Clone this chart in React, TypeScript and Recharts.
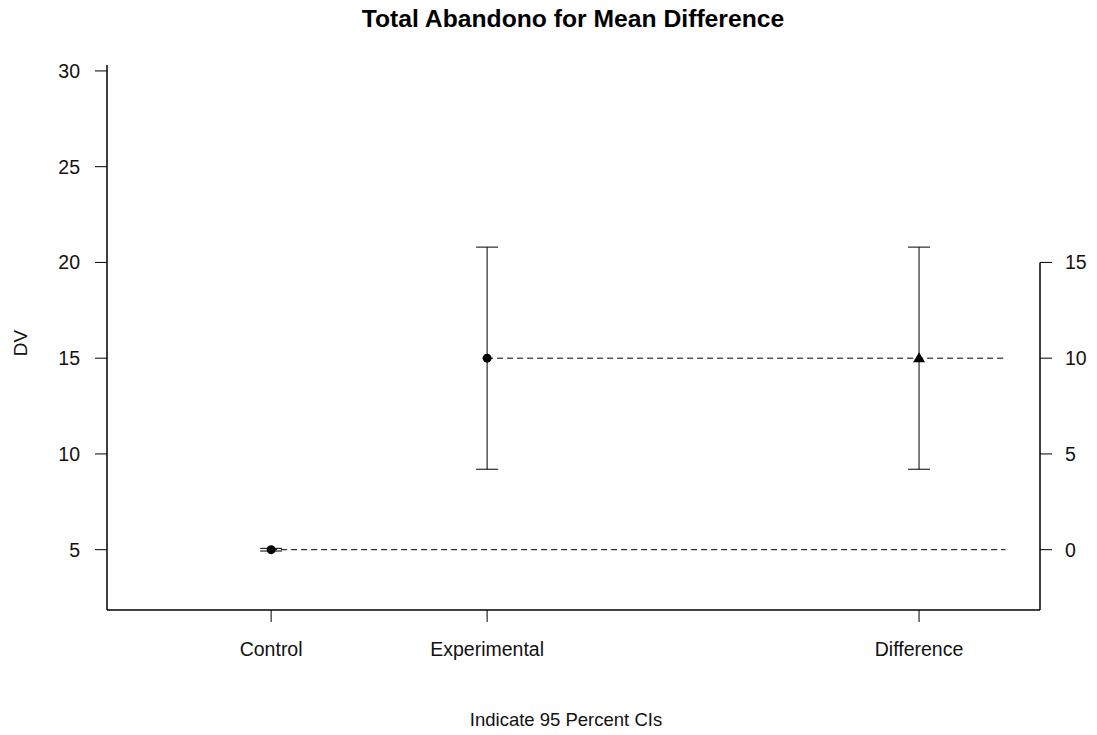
import React from 'react';
import { ComposedChart, Scatter, XAxis, YAxis, ErrorBar, ReferenceLine } from 'recharts';

// Group means with 95% confidence limits, on the DV scale
const groupNames = ['Control', 'Experimental', 'Difference'];
const groupX = [1, 2, 4];
const groupMeans = [5.0, 15.0];
const groupLower = [4.93, 9.2];
const groupUpper = [5.07, 20.8];

// Mean difference (Experimental - Control) with its 95% CI, on the difference scale
const diffMean = 10.0;
const diffLower = 4.2;
const diffUpper = 15.8;

const dvTicks = [5, 10, 15, 20, 25, 30];
const diffTicks = [0, 5, 10, 15];

const X_DOMAIN: [number, number] = [0.24, 4.56];
const DV_DOMAIN: [number, number] = [1.85, 30.31];
const REF_END = 4.4;
// zero on the difference axis sits at the control mean
const anchor = groupMeans[0];
const DIFF_DOMAIN: [number, number] = [DV_DOMAIN[0] - anchor, DV_DOMAIN[1] - anchor];

const groupData = groupMeans.map((m, i) => ({
  x: groupX[i],
  y: m,
  ci: [m - groupLower[i], groupUpper[i] - m],
}));
const diffData = [{ x: groupX[2], y: diffMean, ci: [diffMean - diffLower, diffUpper - diffMean] }];

const FONT = '"Liberation Sans", Arial, sans-serif';
const tickStyle = { fill: '#111', fontSize: 19.5, fontFamily: FONT };

const DotShape = (p: any) => <circle cx={p.cx} cy={p.cy} r={4.5} fill="#000" />;
const TriangleShape = (p: any) => (
  <path d={`M${p.cx},${p.cy - 6} L${p.cx + 6},${p.cy + 4} L${p.cx - 6},${p.cy + 4} Z`} fill="#000" />
);

export default function App() {
  return (
    <div style={{ position: 'relative', width: 1097, height: 735 }}>
      <style>{`body{margin:0}`}</style>
      <ComposedChart width={1097} height={735} margin={{ top: 65, right: 0, bottom: 0, left: 0 }}>
        <XAxis
          type="number"
          dataKey="x"
          domain={X_DOMAIN}
          allowDataOverflow
          ticks={groupX}
          interval={0}
          tickFormatter={(v: number) => groupNames[groupX.indexOf(v)]}
          axisLine={false}
          tickLine={{ stroke: '#000' }}
          tickSize={12}
          tickMargin={20}
          height={125}
          tick={tickStyle}
        />
        <YAxis
          yAxisId="dv"
          orientation="left"
          type="number"
          domain={DV_DOMAIN}
          allowDataOverflow
          ticks={dvTicks}
          interval={0}
          axisLine={false}
          tickLine={{ stroke: '#000' }}
          tickSize={12}
          tickMargin={15}
          width={107}
          tick={tickStyle}
        />
        <YAxis
          yAxisId="diff"
          orientation="right"
          type="number"
          domain={DIFF_DOMAIN}
          allowDataOverflow
          ticks={diffTicks}
          interval={0}
          axisLine={false}
          tickLine={{ stroke: '#000' }}
          tickSize={12}
          tickMargin={13}
          width={57}
          tick={tickStyle}
        />

        {/* L-shaped frame and the difference axis spine */}
        <ReferenceLine
          yAxisId="dv"
          ifOverflow="visible"
          segment={[{ x: X_DOMAIN[0], y: DV_DOMAIN[0] }, { x: X_DOMAIN[0], y: DV_DOMAIN[1] }]}
          stroke="#000"
          strokeWidth={1.5}
        />
        <ReferenceLine
          yAxisId="dv"
          ifOverflow="visible"
          segment={[{ x: X_DOMAIN[0], y: DV_DOMAIN[0] }, { x: X_DOMAIN[1], y: DV_DOMAIN[0] }]}
          stroke="#000"
          strokeWidth={1.5}
        />
        <ReferenceLine
          yAxisId="diff"
          ifOverflow="visible"
          segment={[{ x: X_DOMAIN[1], y: diffTicks[diffTicks.length - 1] }, { x: X_DOMAIN[1], y: DIFF_DOMAIN[0] }]}
          stroke="#000"
          strokeWidth={1.5}
        />

        {/* dashed guides from each group mean across to the difference axis */}
        <ReferenceLine
          yAxisId="dv"
          ifOverflow="visible"
          segment={[{ x: groupX[0], y: groupMeans[0] }, { x: REF_END, y: groupMeans[0] }]}
          stroke="#000"
          strokeDasharray="6 4"
        />
        <ReferenceLine
          yAxisId="dv"
          ifOverflow="visible"
          segment={[{ x: groupX[1], y: groupMeans[1] }, { x: REF_END, y: groupMeans[1] }]}
          stroke="#000"
          strokeDasharray="6 4"
        />

        <Scatter yAxisId="dv" data={groupData} dataKey="y" shape={DotShape} isAnimationActive={false}>
          <ErrorBar dataKey="ci" direction="y" width={11} stroke="#000" strokeWidth={1} />
        </Scatter>
        <Scatter yAxisId="diff" data={diffData} dataKey="y" shape={TriangleShape} isAnimationActive={false}>
          <ErrorBar dataKey="ci" direction="y" width={11} stroke="#000" strokeWidth={1} />
        </Scatter>
      </ComposedChart>

      <svg
        width={1097}
        height={735}
        style={{ position: 'absolute', left: 0, top: 0, pointerEvents: 'none' }}
      >
        <text x={573} y={27} textAnchor="middle" fontFamily={FONT} fontWeight="bold" fontSize={24.7} fill="#000">
          Total Abandono for Mean Difference
        </text>
        <text x={566} y={726} textAnchor="middle" fontFamily={FONT} fontSize={18.5} fill="#111">
          Indicate 95 Percent CIs
        </text>
        <text
          x={27}
          y={343}
          textAnchor="middle"
          fontFamily={FONT}
          fontSize={19}
          fill="#111"
          transform="rotate(-90 27 343)"
        >
          DV
        </text>
      </svg>
    </div>
  );
}
